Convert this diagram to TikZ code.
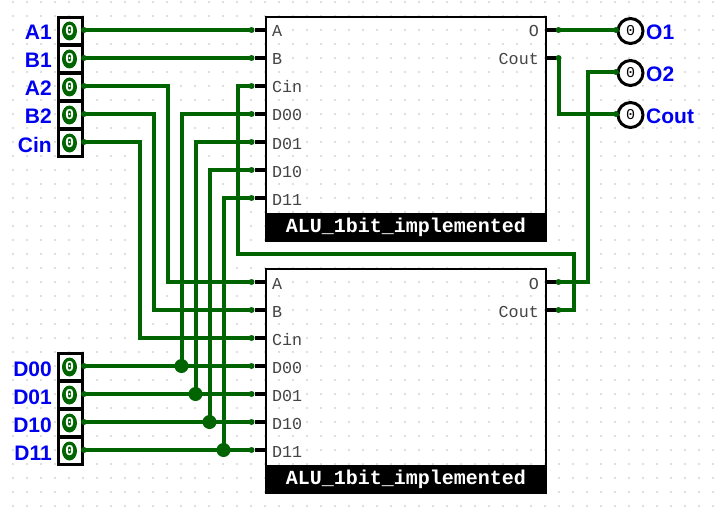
\documentclass[tikz,border=0pt]{standalone}
\usepackage{fontspec}
\setmainfont{Liberation Sans}
\setmonofont{Liberation Mono}
\usetikzlibrary{calc,shapes.geometric}
\definecolor{wiregreen}{RGB}{0,100,0}
\definecolor{pinblue}{RGB}{0,0,240}
\definecolor{portgray}{RGB}{68,68,68}

\begin{document}
\begin{tikzpicture}[
  x=1pt, y=-1pt,
  griddot/.style={fill=black!55},
  wire/.style={draw=wiregreen, line width=4pt, shorten <=-2pt, shorten >=-2pt},
  stub/.style={draw=black, line width=4pt},
  pindot/.style={circle, fill=wiregreen, minimum size=6pt, inner sep=0pt, outer sep=0pt},
  junct/.style={circle, fill=wiregreen, minimum size=14pt, inner sep=0pt},
  incell/.style={rectangle, draw=black, line width=3pt, minimum width=24.5pt, minimum height=27pt, inner sep=0pt, outer sep=0pt},
  inval/.style={ellipse, fill=wiregreen, text=white, minimum width=15pt, minimum height=19pt, inner sep=0pt, font=\ttfamily\bfseries\fontsize{15}{15}\selectfont},
  outval/.style={circle, draw=black, line width=3pt, fill=white, minimum size=25pt, inner sep=0pt, outer sep=0pt, font=\ttfamily\fontsize{15}{15}\selectfont},
  pinlabel/.style={text=pinblue, inner sep=0pt, font=\bfseries\fontsize{21}{21}\selectfont},
  portlabel/.style={text=portgray, inner sep=0pt, font=\ttfamily\fontsize{16.7}{17}\selectfont},
  alubox/.style={rectangle, draw=black, line width=2.8pt, minimum width=280pt, minimum height=224pt, inner sep=0pt, outer sep=0pt},
  alufoot/.style={rectangle, fill=black, text=white, minimum width=282.8pt, minimum height=28pt, inner sep=0pt, font=\ttfamily\bfseries\fontsize{20}{20}\selectfont}
]
\useasboundingbox[fill=white] (0,0) rectangle (714,508);

% grid
\foreach \gx in {13,27,...,713}
  \foreach \gy in {2,16,...,506}
    \fill[griddot] (\gx,\gy) circle (0.6pt);

% input pins
\foreach \n/\txt/\y in {a1/A1/30,b1/B1/58,a2/A2/86,b2/B2/114,cin/Cin/142,d00/D00/366,d01/D01/394,d10/D10/422,d11/D11/450} {
  \node[incell] (cell\n) at (70.5,\y+1) {};
  \node[inval] (val\n) at (69.5,\y+1) {0};
  \node[pinlabel, anchor=base east] (lab\n) at (52,\y+10) {\txt};
  \node[pindot] (in\n) at (84,\y) {};
}

% output pins
\foreach \n/\txt/\y in {o1/O1/30,o2/O2/72,cout/Cout/114} {
  \node[outval] (val\n) at (630.5,\y+1) {0};
  \node[pinlabel, anchor=base west] (lab\n) at (646,\y+10) {\txt};
  \node[pindot] (out\n) at (616,\y) {};
}

% the two units
\foreach \u/\off in {1/0,2/252} {
  \begin{scope}[shift={(0,\off)}]
    \node[alubox] (alu\u) at (406,129) {};
    \node[alufoot] (foot\u) at (406,227) {ALU\_1bit\_implemented};
    \foreach \p/\y in {A/30,B/58,Cin/86,D00/114,D01/142,D10/170,D11/198} {
      \node[portlabel, anchor=base west] (port\u\p) at (272,\y+7) {\p};
      \node[pindot] (pin\u\p) at (251.5,\y) {};
      \draw[stub] (pin\u\p) -- (pin\u\p -| alu\u.west);
    }
    \foreach \p/\y in {O/30,Cout/58} {
      \node[portlabel, anchor=base east] (port\u\p) at (539,\y+7) {\p};
      \node[pindot] (pin\u\p) at (558.5,\y) {};
      \draw[stub] (pin\u\p) -- (pin\u\p -| alu\u.east);
    }
  \end{scope}
}

% bend points
\coordinate (benda2) at (167.5,86);
\coordinate (bendb2) at (153.5,114);
\coordinate (bendcin) at (139.5,142);
\coordinate (bendca) at (237.5,86);
\coordinate (bendcb) at (237.5,254);
\coordinate (bendcc) at (574,254);
\coordinate (bendo2) at (588,72);
\coordinate (bendcout) at (558.5,114);

% wires
\draw[wire] (ina1) -- (pin1A);
\draw[wire] (inb1) -- (pin1B);
\draw[wire] (ina2) -- (benda2) |- (pin2A);
\draw[wire] (inb2) -- (bendb2) |- (pin2B);
\draw[wire] (incin) -- (bendcin) |- (pin2Cin);
\draw[wire] (pin1Cin) -- (bendca) -- (bendcb) -- (bendcc) |- (pin2Cout);
\draw[wire] (pin1O) -- (outo1);
\draw[wire] (pin1Cout) -- (bendcout) -- (outcout);
\draw[wire] (pin2O) -| (bendo2) -- (outo2);

% data lines with junctions
\foreach \d/\x/\up in {00/181.5/D00,01/195.5/D01,10/209.5/D10,11/223.5/D11} {
  \node[junct] (dot\d) at (pin2\up -| \x,0) {};
  \draw[wire] (ind\d) -- (pin2\up);
  \draw[wire] (dot\d) |- (pin1\up);
}
\end{tikzpicture}
\end{document}
